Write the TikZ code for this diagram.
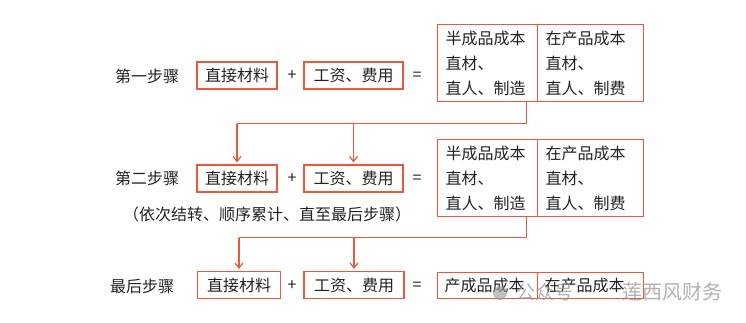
\documentclass[tikz,border=0pt]{standalone}
\usepackage{fontspec}
\setmainfont{Noto Sans CJK SC}
\usetikzlibrary{arrows.meta}
\definecolor{boxred}{RGB}{236,88,58}
\definecolor{txt}{RGB}{34,34,34}
\definecolor{wm}{RGB}{150,150,150}
\tikzset{
  every node/.style={text=txt, font=\fontsize{16}{25}\selectfont},
  opbox/.style={draw=boxred, line width=1.2pt, minimum height=27pt, inner xsep=7pt, inner ysep=0pt},
  cellbox/.style={draw=boxred, line width=1.2pt, anchor=north west, align=left, inner xsep=8pt, inner ysep=4pt, minimum height=77pt},
  flatcell/.style={draw=boxred, line width=1.2pt, anchor=north west, align=left, inner xsep=7pt, inner ysep=0pt, minimum height=26pt},
  link/.style={draw=boxred, line width=1.2pt},
  arr/.style={draw=boxred, line width=1.2pt, -{Straight Barb[length=5pt,width=8pt]}, shorten >=2pt},
  wmtext/.style={text=wm, text opacity=0.75, inner sep=0pt}
}
\begin{document}
\begin{tikzpicture}[x=1pt,y=-1pt]
\useasboundingbox (0,0) rectangle (746,322);
% labels
\node (s1) at (147,76) {第一步骤};
\node (s2) at (147,178.5) {第二步骤};
\node (s2n) at (267,214) {（依次结转、顺序累计、直至最后步骤）};
\node (s3) at (142,286) {最后步骤};
% row 1
\node[opbox, minimum width=80pt] (m1) at (237,75.5) {直接材料};
\node (p1) at (292,76) {+};
\node[opbox, minimum width=99pt] (f1) at (353.5,75.5) {工资、费用};
\node (e1) at (417,76) {=};
\node[cellbox, text width=84pt] (c1a) at (437,24) {半成品成本\\直材、\\直人、制造};
\node[cellbox, text width=90pt] (c1b) at (537,24) {在产品成本\\直材、\\直人、制费};
% row 2
\node[opbox, minimum width=80pt] (m2) at (237,178.5) {直接材料};
\node (p2) at (292,179) {+};
\node[opbox, minimum width=99pt] (f2) at (353.5,178.5) {工资、费用};
\node (e2) at (417,179) {=};
\node[cellbox, text width=84pt] (c2a) at (437,139) {半成品成本\\直材、\\直人、制造};
\node[cellbox, text width=90pt] (c2b) at (537,139) {在产品成本\\直材、\\直人、制费};
% row 3
\node[opbox, minimum width=83pt] (m3) at (239,285) {直接材料};
\node (p3) at (292,286) {+};
\node[opbox, minimum width=100pt] (f3) at (354,285) {工资、费用};
\node (e3) at (417,286) {=};
\node[flatcell, text width=86pt] (c3a) at (437,272) {产成品成本};
\node[flatcell, text width=92pt] (c3b) at (537,272) {在产品成本};
% connectors
\coordinate (h1) at (0,123.5);
\coordinate (h2) at (0,237.5);
\coordinate (j1) at (m2.north |- h1);
\coordinate (k1) at (f2.north |- h1);
\coordinate (j2) at (m3.north |- h2);
\coordinate (k2) at (f3.north |- h2);
\draw[link] ([xshift=-12pt]c1a.south east) |- (j1);
\draw[arr] (j1) -- (m2.north);
\draw[arr] (k1) -- (f2.north);
\draw[link] ([xshift=-12pt]c2a.south east) |- (j2);
\draw[arr] (j2) -- (m3.north);
\draw[arr] (k2) -- (f3.north);
% watermark
\fill[wm, opacity=0.6] (500,293) circle (7pt);
\node[wmtext, font=\fontsize{19}{19}\selectfont] (w1) at (545,292) {公众号};
\node[wmtext, font=\fontsize{20}{20}\selectfont] (w2) at (672,292) {莲西风财务};
\end{tikzpicture}
\end{document}
